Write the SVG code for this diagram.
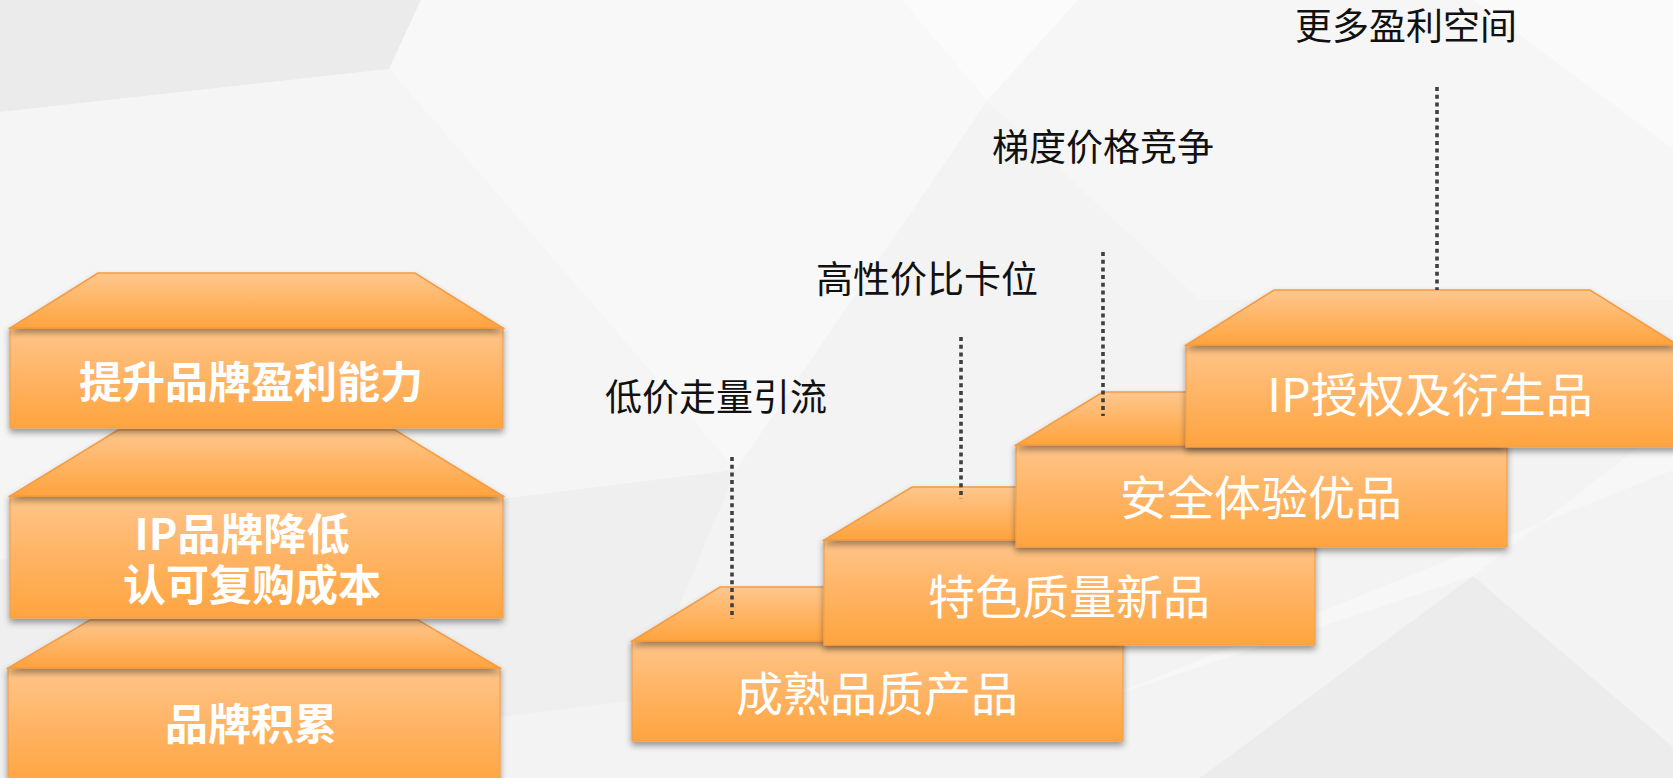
<svg xmlns="http://www.w3.org/2000/svg" width="1673" height="778" viewBox="0 0 1673 778">
<defs>
<linearGradient id="gFront" x1="0" y1="0" x2="0" y2="1">
<stop offset="0" stop-color="#FFC58A"/>
<stop offset="0.45" stop-color="#FFB567"/>
<stop offset="1" stop-color="#FFA43F"/>
</linearGradient>
<linearGradient id="gRoof" x1="0" y1="0" x2="0" y2="1">
<stop offset="0" stop-color="#FFC78D"/>
<stop offset="1" stop-color="#FFA33E"/>
</linearGradient>
<filter id="sh" x="-5%" y="-15%" width="110%" height="140%">
<feDropShadow dx="0" dy="4" stdDeviation="3" flood-color="#000" flood-opacity="0.38"/>
</filter>
</defs>
<style>
.front{fill:url(#gFront);stroke:#F5A049;stroke-width:1.2;filter:url(#sh)}
.roof{fill:url(#gRoof);stroke:#F59C42;stroke-width:1.5;filter:url(#sh)}
.lt{font-family:"Noto Sans CJK SC","Noto Sans",sans-serif;font-size:43px;font-weight:700;fill:#fff;text-anchor:middle}
.rt{font-family:"Noto Sans CJK SC","Noto Sans",sans-serif;font-size:47px;font-weight:400;fill:#fff;text-anchor:middle}
.lab{font-family:"Noto Sans CJK SC","Noto Sans",sans-serif;font-size:37px;fill:#111;text-anchor:middle}
.dot{stroke:#3f3f3f;stroke-width:3.6;stroke-dasharray:4 3.7;fill:none}
</style>
<g id="background">
<rect x="0" y="0" width="1673" height="778" fill="#f3f3f4"/>
<polygon points="0,0 421,0 389,69 0,112" fill="#ebebec"/>
<polygon points="389,69 421,0 902,0 987,101 736,470" fill="#f8f8f9"/>
<polygon points="0,112 389,69 736,470 0,560" fill="#f5f5f6"/>
<polygon points="987,101 1078,0 1473,0 1673,149 1673,300 1200,300" fill="#f6f6f7"/>
<polygon points="902,0 1078,0 987,101" fill="#fbfbfb"/>
<polygon points="1473,0 1673,0 1673,149" fill="#fafafa"/>
<polygon points="0,560 736,470 640,700 0,778" fill="#efeff0"/>
<polygon points="1473,576 1673,747 1673,778 1200,778" fill="#ececed"/>
<polygon points="1100,700 1473,576 1673,420 1673,470" fill="#f7f7f8"/>
</g>
<g id="box-c">
<rect class="front" x="8" y="668" width="492" height="118"/>
<polygon class="roof" points="90,620 418,620 500,668 8,668"/>
<text class="lt" x="251" y="740">品牌积累</text>
</g>
<g id="box-b">
<rect class="front" x="10" y="496" width="493" height="122"/>
<polygon class="roof" points="118,430 395,430 503,496 10,496"/>
<text class="lt" x="242" y="550">IP品牌降低</text>
<text class="lt" x="252" y="601">认可复购成本</text>
</g>
<g id="box-a">
<rect class="front" x="10" y="328" width="493" height="100"/>
<polygon class="roof" points="98,273 415,273 503,328 10,328"/>
<text class="lt" x="251" y="398">提升品牌盈利能力</text>
</g>
<g id="step-1">
<rect class="front" x="632" y="641" width="491" height="100"/>
<polygon class="roof" points="720,587 1035,587 1123,641 632,641"/>
<text class="rt" x="877" y="711">成熟品质产品</text>
</g>
<g id="step-2">
<rect class="front" x="824" y="540" width="491" height="105"/>
<polygon class="roof" points="912,487 1227,487 1315,540 824,540"/>
<text class="rt" x="1069" y="614">特色质量新品</text>
</g>
<g id="step-3">
<rect class="front" x="1016" y="445" width="491" height="102"/>
<polygon class="roof" points="1103,392 1419,392 1507,445 1016,445"/>
<text class="rt" x="1261" y="515">安全体验优品</text>
</g>
<g id="step-4">
<rect class="front" x="1186" y="345" width="492" height="102"/>
<polygon class="roof" points="1274,290 1590,290 1678,345 1186,345"/>
<text class="rt" x="1430" y="412">IP授权及衍生品</text>
</g>
<g id="connectors">
<line class="dot" x1="732" y1="457" x2="732" y2="619"/>
<line class="dot" x1="961" y1="337" x2="961" y2="499"/>
<line class="dot" x1="1103" y1="252" x2="1103" y2="416"/>
<line class="dot" x1="1437" y1="87" x2="1437" y2="290"/>
</g>
<g id="labels">
<text class="lab" x="716" y="411">低价走量引流</text>
<text class="lab" x="927" y="293">高性价比卡位</text>
<text class="lab" x="1103" y="161">梯度价格竞争</text>
<text class="lab" x="1406" y="40">更多盈利空间</text>
</g>
</svg>
